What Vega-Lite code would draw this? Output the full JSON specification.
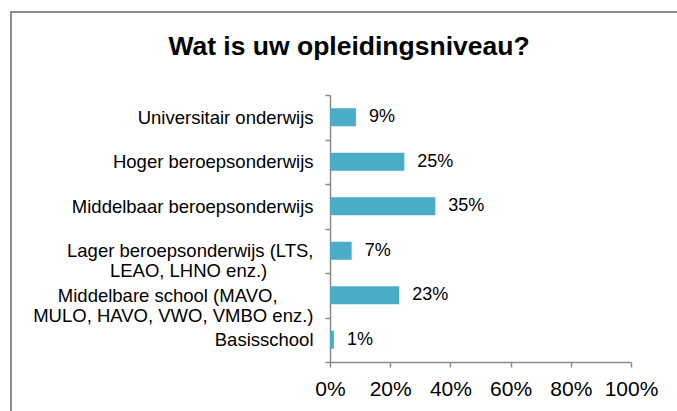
{
  "$schema": "https://vega.github.io/schema/vega-lite/v6.json",
  "width": 680,
  "height": 410,
  "autosize": {"type": "none"},
  "padding": {"left": 11, "top": 12, "right": -14, "bottom": -11},
  "background": "white",
  "view": {"stroke": "#8c8c8c", "strokeWidth": 2, "fill": "white"},
  "title": {
    "text": "Wat is uw opleidingsniveau?",
    "fontSize": 26.5,
    "fontWeight": "bold",
    "font": "Liberation Sans",
    "color": "black",
    "anchor": "middle",
    "frame": "group",
    "baseline": "alphabetic",
    "offset": -78,
    "dx": -2
  },
  "data": {
    "values": [
      {"niveau": "Universitair onderwijs", "aandeel": 0.086},
      {"niveau": "Hoger beroepsonderwijs", "aandeel": 0.247},
      {"niveau": "Middelbaar beroepsonderwijs", "aandeel": 0.35},
      {"niveau": "Lager beroepsonderwijs (LTS,|LEAO, LHNO enz.)", "aandeel": 0.072},
      {"niveau": "Middelbare school (MAVO,|MULO, HAVO, VWO, VMBO enz.)", "aandeel": 0.23},
      {"niveau": "Basisschool", "aandeel": 0.013}
    ]
  },
  "encoding": {
    "y": {
      "field": "niveau",
      "type": "nominal",
      "sort": null,
      "scale": {"range": [83, 350], "paddingInner": 0, "paddingOuter": 0},
      "axis": {
        "title": null,
        "orient": "left",
        "offset": -319,
        "grid": false,
        "domainColor": "#8c8c8c",
        "domainWidth": 1.5,
        "tickColor": "#8c8c8c",
        "tickWidth": 1.5,
        "tickSize": 5,
        "tickBand": "extent",
        "labelFont": "Liberation Sans",
        "labelFontSize": 18.5,
        "labelColor": "black",
        "labelLineHeight": 20,
        "labelLimit": 0,
        "labelAlign": "right",
        "labelPadding": 12,
        "labelExpr": "split(replace(replace(datum.label, 'LHNO enz.)', 'LHNO enz.)\u00a0\u00a0\u00a0\u00a0\u00a0\u00a0\u00a0\u00a0\u00a0\u200b'), '(MAVO,', '(MAVO,\u00a0\u00a0\u00a0\u00a0\u00a0\u00a0\u00a0\u200b'), '|')"
      }
    },
    "x": {
      "field": "aandeel",
      "type": "quantitative",
      "scale": {"domain": [0, 1], "range": [319, 620]},
      "axis": {
        "title": null,
        "orient": "bottom",
        "offset": -60,
        "grid": false,
        "values": [0, 0.2, 0.4, 0.6, 0.8, 1],
        "format": ".0%",
        "domainColor": "#8c8c8c",
        "domainWidth": 1.5,
        "tickColor": "#8c8c8c",
        "tickWidth": 1.5,
        "tickSize": 5,
        "labelFont": "Liberation Sans",
        "labelFontSize": 21,
        "labelColor": "black",
        "labelPadding": 11,
        "labelFlush": false
      }
    }
  },
  "layer": [
    {"mark": {"type": "bar", "color": "#4BACC6", "size": 18}},
    {
      "mark": {"type": "text", "align": "left", "baseline": "middle", "dx": 13, "fontSize": 18, "font": "Liberation Sans", "color": "black"},
      "encoding": {"text": {"field": "aandeel", "type": "quantitative", "format": ".0%"}}
    }
  ]
}
